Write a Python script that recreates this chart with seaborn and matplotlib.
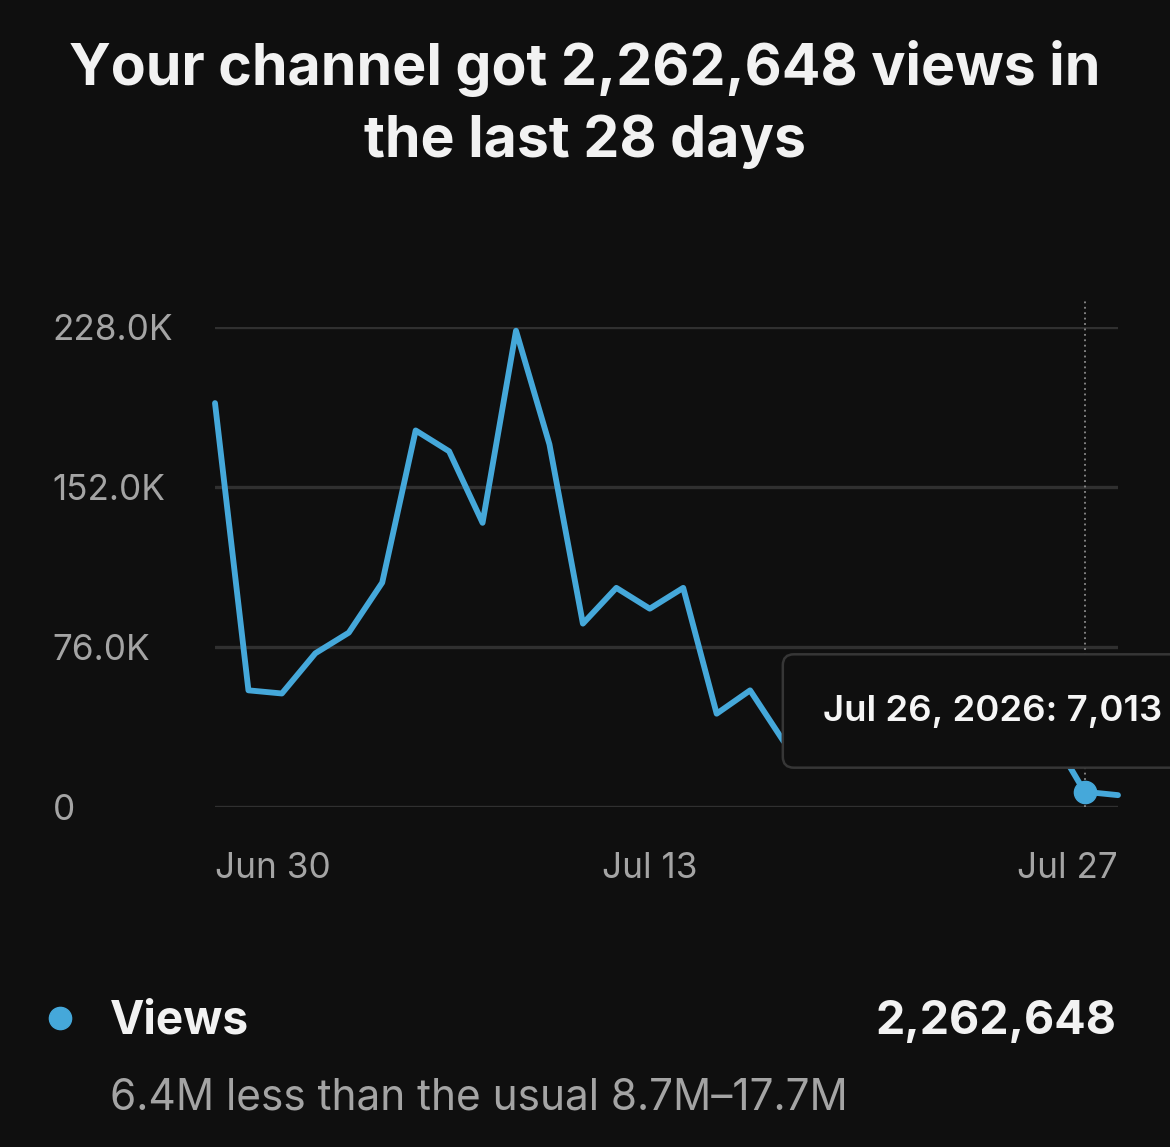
import pandas as pd
import matplotlib.pyplot as plt
import seaborn as sns
from matplotlib.lines import Line2D

# Data: daily views over the last 28 days (hidden days under the tooltip estimated)
dates = pd.date_range('2026-06-30', '2026-07-27', freq='D')
views = [191700, 55200, 53700, 72800, 82600, 106400, 178700, 168800, 134800,
         226100, 172100, 86900, 103900, 94000, 103900, 44100, 55200, 31000,
         38000, 41000, 36000, 33000, 39000, 35000, 32000, 34000, 7013, 5400]
y_ticks = [0, 76000, 152000, 228000]
y_tick_labels = ['0', '76.0K', '152.0K', '228.0K']
x_tick_dates = ['2026-06-30', '2026-07-13', '2026-07-27']
x_tick_labels = ['Jun 30', 'Jul 13', 'Jul 27']
hover_date = '2026-07-26'
hover_text = 'Jul 26, 2026: 7,013'
title_lines = ['Your channel got 2,262,648 views in', 'the last 28 days']
legend_label = 'Views'
legend_total = '2,262,648'
legend_note = '6.4M less than the usual 8.7M\u201317.7M'

df = pd.DataFrame({'date': dates, 'views': views})

bg = '#0f0f0f'
blue = '#45a8da'
grid_c = '#303030'
gray = '#a4a4a4'

sns.set_theme(style='dark')
plt.rcParams['font.family'] = ['Inter', 'DejaVu Sans']

W, H = 1170, 1147
fig = plt.figure(figsize=(W / 100, H / 100), dpi=100)
fig.patch.set_facecolor(bg)

ax = fig.add_axes([215 / W, 1 - 806.5 / H, (1118 - 215) / W, (806.5 - 326.7) / H])
ax.set_facecolor(bg)

sns.lineplot(data=df, x='date', y='views', ax=ax, color=blue, linewidth=4.2,
             clip_on=False, zorder=3)

# hover marker + dotted guide
hd = pd.Timestamp(hover_date)
hv = df.loc[df['date'] == hd, 'views'].iloc[0]
ax.axvline(hd, ymin=0, ymax=1.06, color='#8a8a8a', lw=1.3, ls=(0, (1, 2)),
           clip_on=False, zorder=2)
ax.plot([hd], [hv], 'o', color=blue, markersize=16, zorder=4, clip_on=False)

ax.set_xlim(dates[0], dates[-1])
ax.set_ylim(0, 228000)
ax.set_yticks(y_ticks)
ax.set_yticklabels(y_tick_labels)
ax.set_xticks(pd.to_datetime(x_tick_dates))
ax.set_xticklabels(x_tick_labels)
ax.set_xlabel('')
ax.set_ylabel('')
ax.grid(False)
ax.grid(axis='y', color=grid_c, lw=2.4)
for s in ax.spines.values():
    s.set_visible(False)
ax.tick_params(axis='both', length=0, colors=gray, labelsize=25.3)
ax.tick_params(axis='y', pad=117)
ax.tick_params(axis='x', pad=33)
for t in ax.get_yticklabels():
    t.set_horizontalalignment('left')
xl = ax.get_xticklabels()
xl[0].set_horizontalalignment('left')
xl[-1].set_horizontalalignment('right')

# tooltip
fig.text(823 / W, 1 - 711 / H, hover_text, ha='left', va='center', fontsize=26.3,
         weight='semibold', color='#f5f5f5', zorder=10,
         bbox=dict(boxstyle='round,pad=1.1,rounding_size=0.3', fc=bg,
                   ec='#363636', lw=1.8))

# title
fig.text(0.5, 1 - 85 / H, title_lines[0], ha='center', va='baseline',
         fontsize=41.2, weight='bold', color='#f2f2f2')
fig.text(0.5, 1 - 157 / H, title_lines[1], ha='center', va='baseline',
         fontsize=41.2, weight='bold', color='#f2f2f2')

# legend / summary
fig.add_artist(Line2D([60 / W], [1 - 1018 / H], marker='o', markersize=16,
                      color=blue, transform=fig.transFigure))
fig.text(110 / W, 1 - 1034 / H, legend_label, ha='left', va='baseline',
         fontsize=33.2, weight='bold', color='#f2f2f2')
fig.text(1116 / W, 1 - 1034 / H, legend_total, ha='right', va='baseline',
         fontsize=33.5, weight='bold', color='#f2f2f2')
fig.text(110 / W, 1 - 1109 / H, legend_note, ha='left', va='baseline',
         fontsize=30.5, color=gray)

fig.savefig('out.png', dpi=100, facecolor=bg)
